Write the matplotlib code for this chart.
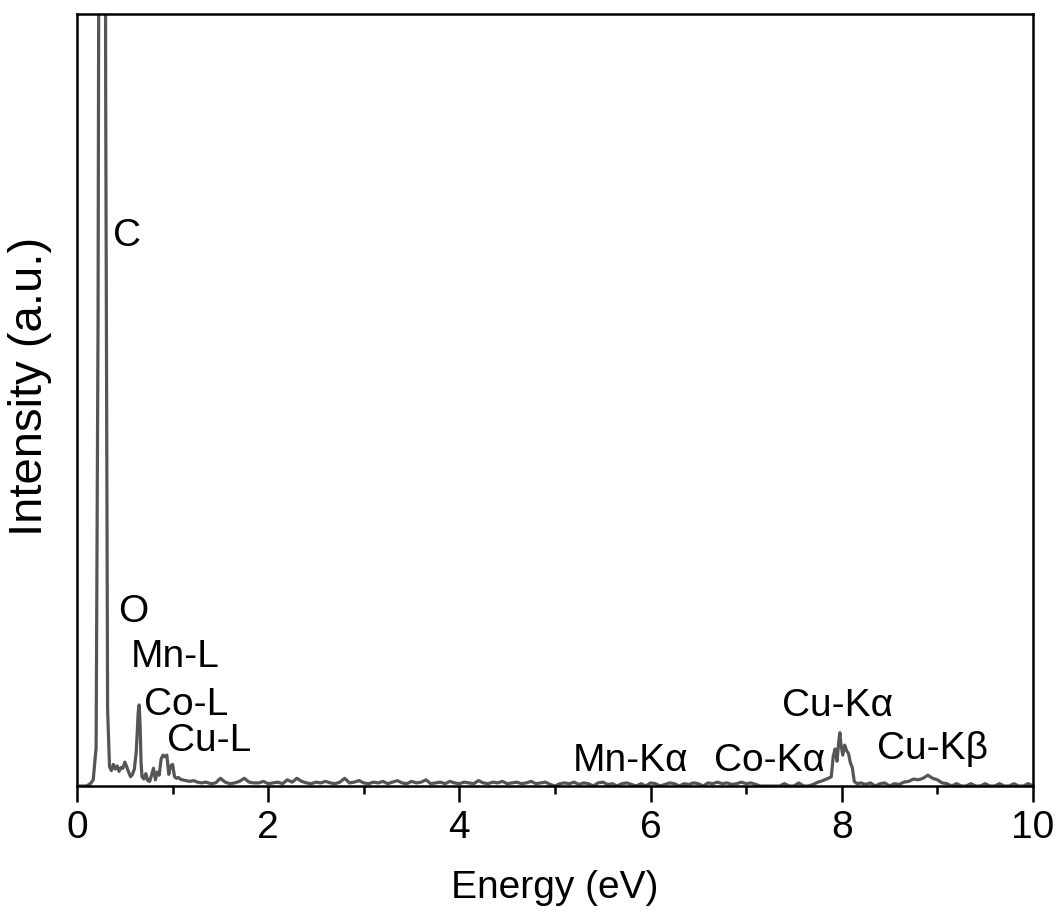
import numpy as np
import matplotlib

matplotlib.use('Agg')

import matplotlib.pyplot as plt
from matplotlib.ticker import MultipleLocator

plt.rcParams['font.family'] = ['Liberation Sans', 'DejaVu Sans']

# low energy part (C, O, Mn-L, Co-L, Cu-L)
low_energy = [0.00, 0.10, 0.14, 0.17, 0.20, 0.22, 0.24, 0.26, 0.28, 0.30,
              0.32, 0.34, 0.36, 0.38, 0.40, 0.42, 0.44, 0.46, 0.48, 0.50,
              0.52, 0.54, 0.56, 0.58, 0.60, 0.62, 0.64, 0.65, 0.66, 0.67,
              0.68, 0.70, 0.72, 0.74, 0.76, 0.78, 0.80, 0.82, 0.84, 0.86,
              0.88, 0.90, 0.92, 0.94, 0.96, 0.98, 1.00, 1.02, 1.04, 1.06,
              1.08, 1.10, 1.14, 1.18, 1.22, 1.26]
low_counts = [0.0, 0.0, 0.3, 0.8, 5.0, 60.0, 180.0, 260.0, 250.0, 90.0,
              10.0, 2.5, 2.0, 2.8, 2.2, 2.6, 1.9, 2.4, 2.3, 3.1,
              2.5, 1.8, 1.2, 1.5, 2.2, 4.5, 9.5, 10.5, 8.0, 3.0,
              1.2, 0.9, 1.6, 0.7, 0.6, 1.4, 2.3, 0.8, 1.8, 1.4,
              3.5, 4.0, 3.8, 4.0, 1.5, 2.6, 2.8, 1.2, 1.0, 1.1,
              0.9, 0.8, 0.7, 0.6, 0.7, 0.5]

# baseline 1.30 -> 7.75 eV, channels every 0.05 eV
base1_start, base1_step = 1.30, 0.05
base1_counts = [0.4, 0.5, 0.3, 0.4, 1.0, 0.5, 0.3, 0.4, 0.6, 1.0,
                0.5, 0.4, 0.4, 0.6, 0.3, 0.4, 0.5, 0.3, 0.8, 0.5,
                1.0, 0.6, 0.4, 0.3, 0.5, 0.4, 0.6, 0.4, 0.3, 0.5,
                1.0, 0.4, 0.5, 0.7, 0.4, 0.3, 0.5, 0.4, 0.6, 0.3,
                0.5, 0.7, 0.4, 0.3, 0.6, 0.4, 0.5, 0.8, 0.3, 0.4,
                0.5, 0.3, 0.6, 0.4, 0.3, 0.5, 0.4, 0.3, 0.7, 0.4,
                0.3, 0.5, 0.4, 0.6, 0.3, 0.4, 0.5, 0.3, 0.4, 0.6,
                0.3, 0.4, 0.5, 0.2, 0.0, 0.3, 0.4, 0.3, 0.5, 0.2,
                0.4, 0.3, 0.0, 0.4, 0.5, 0.2, 0.3, 0.0, 0.3, 0.4,
                0.2, 0.0, 0.3, 0.0, 0.4, 0.3, 0.0, 0.2, 0.4, 0.3,
                0.0, 0.3, 0.2, 0.4, 0.3, 0.0, 0.4, 0.3, 0.5, 0.3,
                0.4, 0.2, 0.3, 0.5, 0.3, 0.4, 0.2, 0.0, 0.0, 0.0,
                0.0, 0.0, 0.3, 0.0, 0.0, 0.4, 0.0, 0.0, 0.2, 0.5]

# Cu-Ka peak
cuka_energy = [7.78, 7.82, 7.86, 7.89, 7.91, 7.93, 7.95, 7.97, 7.98, 7.99,
               8.01, 8.03, 8.05, 8.07, 8.09, 8.11, 8.13, 8.16]
cuka_counts = [0.6, 0.8, 1.0, 1.2, 3.8, 4.8, 3.2, 6.0, 6.9, 5.5,
               4.0, 5.3, 4.6, 4.2, 3.0, 2.4, 0.6, 0.3]

# baseline 8.20 -> 10.00 eV (with Cu-Kb hump)
base2_start, base2_step = 8.20, 0.05
base2_counts = [0.4, 0.2, 0.4, 0.0, 0.3, 0.4, 0.0, 0.3, 0.2, 0.5,
                0.6, 0.9, 0.8, 1.0, 1.4, 1.0, 0.8, 0.4, 0.3, 0.0,
                0.3, 0.0, 0.0, 0.3, 0.0, 0.0, 0.3, 0.0, 0.0, 0.3,
                0.0, 0.0, 0.3, 0.0, 0.0, 0.3, 0.0]

peak_labels = ['C', 'O', 'Mn-L', 'Co-L', 'Cu-L',
               'Mn-K\u03b1', 'Co-K\u03b1', 'Cu-K\u03b1', 'Cu-K\u03b2']
label_x = [0.38, 0.43, 0.56, 0.70, 0.94, 5.19, 6.66, 7.37, 8.37]
label_y = [70.0, 21.2, 15.4, 9.2, 4.5, 1.9, 1.9, 9.1, 3.5]

base1_energy = base1_start + base1_step * np.arange(len(base1_counts))
base2_energy = base2_start + base2_step * np.arange(len(base2_counts))

energy = np.concatenate([low_energy, base1_energy, cuka_energy, base2_energy])
counts = np.concatenate([low_counts, base1_counts, cuka_counts, base2_counts])

fig = plt.figure(figsize=(10.62, 9.22), dpi=100)
ax = fig.add_axes([77 / 1062, 1 - 786 / 922, 956 / 1062, 772 / 922])

ax.plot(energy, counts, color='#555555', linewidth=2.3)

for lab, lx, ly in zip(peak_labels, label_x, label_y):
    ax.text(lx, ly, lab, fontsize=28, ha='left', va='baseline')

ax.set_xlim(0, 10)
ax.set_ylim(0, 100)
ax.xaxis.set_major_locator(MultipleLocator(2))
ax.xaxis.set_minor_locator(MultipleLocator(1))
ax.set_yticks([])
ax.tick_params(axis='x', which='major', direction='out', length=11.5, width=1.8,
               labelsize=28, pad=6)
ax.tick_params(axis='x', which='minor', direction='out', length=6, width=1.8)
for s in ax.spines.values():
    s.set_linewidth(1.8)

ax.set_xlabel('Energy (eV)', fontsize=28, labelpad=17)
ax.set_ylabel('Intensity (a.u.)', fontsize=34)
ax.yaxis.set_label_coords(-0.026, 0.518)

fig.savefig('out.png', dpi=100)
